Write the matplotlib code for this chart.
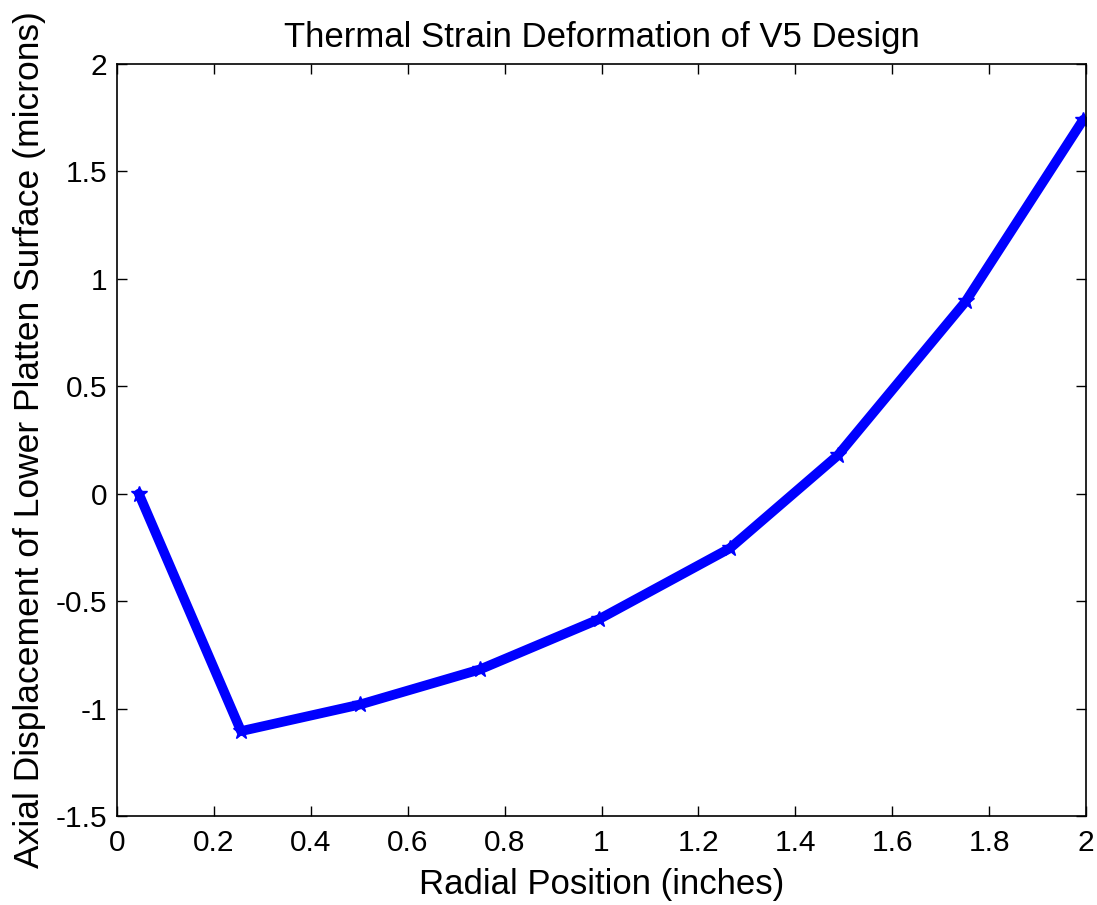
import matplotlib
matplotlib.use("Agg")
import matplotlib.pyplot as plt

radial_position = [0.045, 0.256, 0.502, 0.749, 0.995, 1.265, 1.488, 1.752, 1.994]
axial_displacement = [0.0, -1.105, -0.981, -0.818, -0.584, -0.254, 0.179, 0.896, 1.740]
xticks = [0, 0.2, 0.4, 0.6, 0.8, 1, 1.2, 1.4, 1.6, 1.8, 2]
xtick_labels = ["0", "0.2", "0.4", "0.6", "0.8", "1", "1.2", "1.4", "1.6", "1.8", "2"]
yticks = [-1.5, -1, -0.5, 0, 0.5, 1, 1.5, 2]
ytick_labels = ["-1.5", "-1", "-0.5", "0", "0.5", "1", "1.5", "2"]

plt.rcParams['font.family'] = ['Liberation Sans', 'DejaVu Sans']

fig = plt.figure(figsize=(10.97, 9.05), dpi=100)
ax = fig.add_axes([117/1097, 1 - 816/905, (1086-117)/1097, (816-64)/905])

ax.plot(radial_position, axial_displacement, color='#0000ff', linewidth=7,
        marker='*', markersize=12, solid_joinstyle='round', solid_capstyle='round')

ax.set_xlim(0, 2)
ax.set_ylim(-1.5, 2)
ax.set_xticks(xticks)
ax.set_xticklabels(xtick_labels)
ax.set_yticks(yticks)
ax.set_yticklabels(ytick_labels)
ax.tick_params(direction='in', length=7, width=1, labelsize=21.5, top=True, right=True, pad=9)
ax.tick_params(axis='y', pad=7)
for s in ax.spines.values():
    s.set_linewidth(1.2)

ax.set_xlabel("Radial Position (inches)", fontsize=25, labelpad=8)
ax.set_ylabel("Axial Displacement of Lower Platten Surface (microns)", fontsize=25.5, labelpad=7)
ax.set_title("Thermal Strain Deformation of V5 Design", fontsize=25, pad=12)

fig.savefig("out.png", dpi=100)
